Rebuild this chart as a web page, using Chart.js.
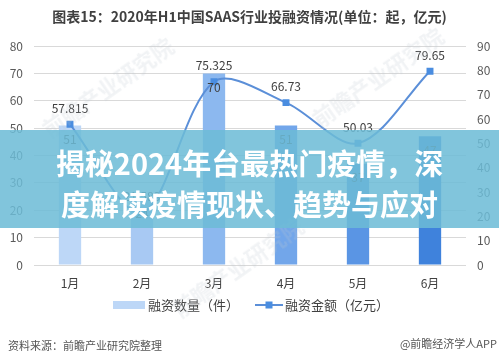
<!DOCTYPE html>
<html>
<head>
<meta charset="utf-8">
<script src="https://cdn.jsdelivr.net/npm/chart.js@4/dist/chart.umd.min.js"></script>
<style>
  html, body { margin: 0; padding: 0; background: #fff; }
  #wrap { position: relative; width: 499px; height: 361px; overflow: hidden; font-family: "Noto Sans CJK SC", sans-serif; }
  #title { position: absolute; top: 5px; left: 0; width: 499px; text-align: center; font-size: 14px; font-weight: bold; color: #404040; line-height: 22px; }
  #banner { position: absolute; top: 130px; left: 0; width: 499px; height: 98px; background: rgba(108, 188, 214, 0.86); }
  #banner div { color: #fff; font-weight: bold; font-size: 29px; line-height: 41px; text-align: center; white-space: nowrap; }
  #src { position: absolute; left: 8px; top: 337px; font-size: 11px; color: #555; }
  #app { position: absolute; right: 2px; top: 335px; font-size: 11px; color: #555; }
  .wm { position: absolute; font-size: 22px; font-weight: bold; color: rgba(190, 200, 210, 0.22); transform: rotate(-35deg); white-space: nowrap; }
</style>
</head>
<body>
<div id="wrap">
  <canvas id="chart" width="499" height="361"></canvas>
  <div id="title">图表15：2020年H1中国SAAS行业投融资情况(单位：起，亿元)</div>
  <div class="wm" style="left:30px;top:70px;">前瞻产业研究院</div>
  <div class="wm" style="left:160px;top:250px;">前瞻产业研究院</div>
  <div class="wm" style="left:300px;top:60px;">前瞻产业研究院</div>
  <div id="banner">
    <div style="margin-top:12px;">揭秘2024年台最热门疫情，深</div>
    <div>度解读疫情现状、趋势与应对</div>
  </div>
  <div id="src">资料来源：前瞻产业研究院整理</div>
  <div id="app">@前瞻经济学人APP</div>
</div>
<script>
const months = ["1月", "2月", "3月", "4月", "5月", "6月"];
const dealCount = [51, 24, 70, 51, 37, 47];
const dealAmount = [57.815, 21.583, 75.325, 66.73, 50.03, 79.65];
const leftTicks = [0, 80, 10];
const rightTicks = [0, 90, 10];

const barColors = ["#bdd7f7", "#a8c9f3", "#8cb8ef", "#72a6ea", "#5a95e4", "#3f82dc"];
const lineColor = "#5b8fd8";
const textColor = "#404040";
const font = "Noto Sans CJK SC";

const valueLabels = {
  id: "valueLabels",
  afterDatasetsDraw(chart) {
    const ctx = chart.ctx;
    ctx.save();
    ctx.font = "12px '" + font + "'";
    ctx.fillStyle = textColor;
    ctx.textAlign = "center";
    ctx.textBaseline = "middle";
    chart.getDatasetMeta(0).data.forEach((bar, i) => {
      ctx.fillText(String(dealCount[i]), bar.x, bar.y + 14);
    });
    chart.getDatasetMeta(1).data.forEach((pt, i) => {
      ctx.fillText(String(dealAmount[i]), pt.x, pt.y - 16);
    });
    ctx.restore();
  },
  afterDraw(chart) {
    // legend
    const ctx = chart.ctx;
    const ds = chart.data.datasets;
    const y = 305;
    ctx.save();
    ctx.font = "13px '" + font + "'";
    ctx.textBaseline = "middle";
    ctx.textAlign = "left";
    ctx.fillStyle = barColors[0];
    ctx.fillRect(113, y - 4, 32, 8);
    ctx.fillStyle = textColor;
    ctx.fillText(ds[0].label, 148, y);
    ctx.strokeStyle = lineColor;
    ctx.lineWidth = 2;
    ctx.beginPath();
    ctx.moveTo(255, y);
    ctx.lineTo(283, y);
    ctx.stroke();
    ctx.fillStyle = "#4a8de0";
    ctx.fillRect(265.5, y - 3.5, 7, 7);
    ctx.fillStyle = textColor;
    ctx.fillText(ds[1].label, 285, y);
    ctx.restore();
  }
};

new Chart(document.getElementById("chart").getContext("2d"), {
  data: {
    labels: months,
    datasets: [
      {
        type: "bar",
        label: "融资数量（件）",
        data: dealCount,
        backgroundColor: barColors,
        yAxisID: "y",
        barPercentage: 0.31,
        categoryPercentage: 1,
        order: 2,
      },
      {
        type: "line",
        label: "融资金额（亿元）",
        data: dealAmount,
        borderColor: lineColor,
        borderWidth: 2,
        tension: 0.32,
        pointStyle: "rect",
        pointRadius: 3.5,
        pointBackgroundColor: "#4a8de0",
        pointBorderColor: "#4a8de0",
        yAxisID: "y1",
        order: 1,
      },
    ],
  },
  options: {
    responsive: false,
    animation: false,
    devicePixelRatio: 1,
    layout: { padding: { top: 46, left: 0, right: 0, bottom: 0 } },
    plugins: {
      legend: { display: false },
      tooltip: { enabled: false },
    },
    scales: {
      x: {
        grid: { display: false },
        border: { display: false },
        ticks: { color: textColor, font: { family: font, size: 12 }, padding: 3 },
        afterFit(scale) { scale.height = 96; },
      },
      y: {
        position: "left",
        min: leftTicks[0],
        max: leftTicks[1],
        ticks: { stepSize: leftTicks[2], color: "#595959", font: { family: font, size: 12 }, padding: 11 },
        grid: { color: "#d9d9d9", drawTicks: false },
        border: { display: false },
        afterFit(scale) { scale.width = 34; },
      },
      y1: {
        position: "right",
        min: rightTicks[0],
        max: rightTicks[1],
        ticks: { stepSize: rightTicks[2], color: "#595959", font: { family: font, size: 12 }, padding: 11 },
        grid: { drawOnChartArea: false, drawTicks: false },
        border: { display: false },
        afterFit(scale) { scale.width = 33; },
      },
    },
  },
  plugins: [valueLabels],
});
</script>
</body>
</html>
